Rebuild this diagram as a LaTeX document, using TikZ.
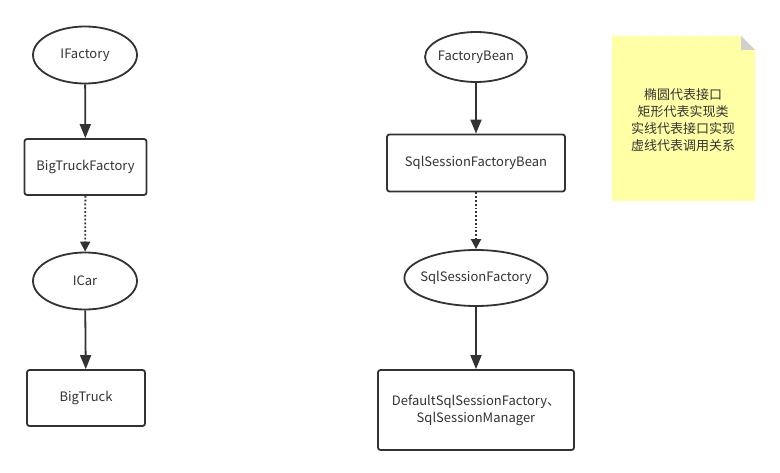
\documentclass[tikz,border=0pt]{standalone}
\usepackage{fontspec}
\setmainfont{Noto Sans CJK SC}
\usetikzlibrary{shapes.geometric,arrows.meta}
\definecolor{ln}{HTML}{333333}
\definecolor{tx}{HTML}{333333}
\definecolor{note}{HTML}{FFFFA6}
\definecolor{fold}{HTML}{D0D0D0}
\begin{document}
\begin{tikzpicture}[x=1pt,y=-1pt,
  every node/.style={font=\fontsize{13}{17}\selectfont, text=tx, align=center, inner sep=0pt},
  ell/.style={ellipse, draw=ln, line width=1.8pt, fill=white},
  box/.style={rectangle, rounded corners=2.5pt, draw=ln, line width=1.8pt, fill=white},
  solidarr/.style={draw=ln, line width=1.8pt, -{Triangle[length=14pt,width=11pt]}},
  dotarr/.style={draw=ln, line width=1.8pt, dotted, -{Triangle[length=10pt,width=10pt]}}
]
\useasboundingbox (0,0) rectangle (780,473);
\fill[white] (0,0) rectangle (780,473);
% left column
\node[ell, minimum width=104pt, minimum height=57pt] (ifac) at (85,55) {IFactory};
\node[box, minimum width=122pt, minimum height=56pt] (btf) at (85.5,167) {BigTruckFactory};
\node[ell, minimum width=104pt, minimum height=57pt] (icar) at (85,281) {ICar};
\node[box, minimum width=118pt, minimum height=56pt] (bt) at (86,398) {BigTruck};
% right column
\node[ell, minimum width=98pt, minimum height=50pt, inner xsep=-2pt] (fb) at (476,57) {FactoryBean};
\node[box, minimum width=178pt, minimum height=57pt] (ssfb) at (476,163) {SqlSessionFactoryBean};
\node[ell, minimum width=143pt, minimum height=56pt, inner xsep=-5pt] (ssf) at (476,278) {SqlSessionFactory};
\node[box, minimum width=196pt, minimum height=80pt] (dssf) at (476,410) {DefaultSqlSessionFactory、\\SqlSessionManager};
% connectors
\draw[solidarr] (ifac) -- (btf);
\draw[dotarr] (btf) -- (icar);
\draw[solidarr] (icar) -- (bt);
\draw[solidarr] (fb) -- (ssfb);
\draw[dotarr] (ssfb) -- (ssf);
\draw[solidarr] (ssf) -- (dssf);
% note
\fill[note] (612,36) -- (741,36) -- (755,50) -- (755,201) -- (612,201) -- cycle;
\fill[fold] (741,36) -- (755,50) -- (741,50) -- cycle;
\node (notetext) at (683,120) {椭圆代表接口\\矩形代表实现类\\实线代表接口实现\\虚线代表调用关系};
\end{tikzpicture}
\end{document}
